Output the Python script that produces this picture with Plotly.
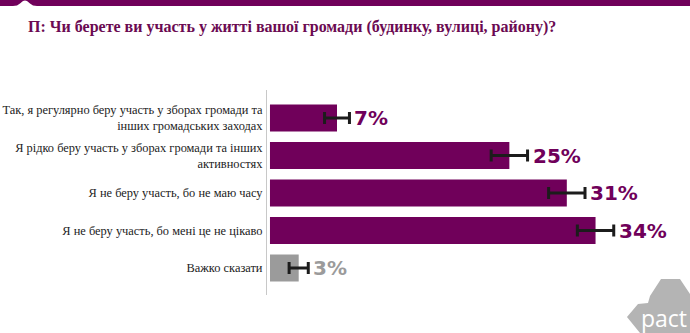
import plotly.graph_objects as go

# Survey responses (share of respondents, %) with margin of error
categories = [
    "Так, я регулярно беру участь у зборах громади та<br>інших громадських заходах",
    "Я рідко беру участь у зборах громади та інших<br>активностях",
    "Я не беру участь, бо не маю часу",
    "Я не беру участь, бо мені це не цікаво",
    "Важко сказати",
]
values = [7, 25, 31, 34, 3]
errors = [1.3, 1.9, 1.9, 1.9, 1.0]
value_labels = ["7%", "25%", "31%", "34%", "3%"]

PURPLE = "#70005a"
GREY = "#9b9b9b"
bar_colors = [PURPLE, PURPLE, PURPLE, PURPLE, GREY]
text_colors = [PURPLE, PURPLE, PURPLE, PURPLE, GREY]

W, H = 690, 333
L, R, T, B = 267, 37, 90, 38


def px(x, y):
    """Convert page pixels to paper coordinates of the plot area."""
    pw = W - L - R
    ph = H - T - B
    return (x - L) / pw, (H - B - y) / ph


fig = go.Figure()
fig.add_trace(go.Bar(
    x=values,
    y=categories,
    orientation="h",
    width=0.72,
    marker=dict(color=bar_colors, line=dict(width=0)),
    error_x=dict(type="data", array=errors, visible=True,
                 color="#1c1c1c", thickness=3, width=6),
    hoverinfo="skip",
))

for v, e, c, lab, col in zip(values, errors, categories, value_labels, text_colors):
    fig.add_annotation(
        x=v + e, y=c, xref="x", yref="y",
        text=lab, showarrow=False, xanchor="left", yanchor="middle",
        xshift=3,
        font=dict(family="DejaVu Sans", size=20, color=col, weight="bold"),
    )

# Header band with notch
shapes = []
x0, y0 = px(0, 0)
x1, y1 = px(W, 6)
shapes.append(dict(type="rect", xref="paper", yref="paper",
                   x0=x0, y0=y1, x1=x1, y1=y0,
                   fillcolor=PURPLE, line=dict(width=0), layer="above"))
pts = [(13, 6), (17, 5.5), (20, 3.5), (23, 1), (25, 0.5), (27, 1), (30, 3.5),
       (33, 5.5), (37, 6)]
path = "M " + " L ".join("%f,%f" % px(a, b) for a, b in pts) + " Z"
shapes.append(dict(type="path", xref="paper", yref="paper", path=path,
                   fillcolor="white", line=dict(width=0), layer="above"))

# Logo badge
logo = [(661, 279), (680, 279), (690, 294), (690, 333), (640, 333),
        (627, 317), (638, 304), (648, 303), (650, 296)]
path = "M " + " L ".join("%f,%f" % px(a, b) for a, b in logo) + " Z"
shapes.append(dict(type="path", xref="paper", yref="paper", path=path,
                   fillcolor="#b4b4b4", line=dict(width=0), layer="above"))

lx, ly = px(663.5, 318)
fig.add_annotation(x=lx, y=ly, xref="paper", yref="paper", text="pact",
                   showarrow=False, xanchor="center", yanchor="middle",
                   font=dict(family="Open Sans", size=23, color="white"))

fig.update_layout(
    width=W, height=H,
    margin=dict(l=L, r=R, t=T, b=B, pad=0, autoexpand=False),
    paper_bgcolor="white", plot_bgcolor="white",
    showlegend=False,
    bargap=0.28,
    shapes=shapes,
    title=dict(
        text="П: Чи берете ви участь у житті вашої громади (будинку, вулиці, району)?",
        x=28 / W, xanchor="left", xref="container",
        y=1 - 26 / H, yanchor="middle", yref="container",
        font=dict(family="Liberation Serif", size=16, color="#6b0a52", weight="bold"),
    ),
    xaxis=dict(range=[-0.31, 40], visible=False, fixedrange=True, automargin=False),
    yaxis=dict(
        type="category",
        range=[4.72, -0.747],
        automargin=False,
        showline=True, linecolor="#c8c8c8", linewidth=1,
        showgrid=False, zeroline=False, ticks="",
        ticklabelstandoff=1,
        tickfont=dict(family="Liberation Serif", size=12.4, color="#222222"),
        fixedrange=True,
    ),
)

fig.write_html("out.html")
